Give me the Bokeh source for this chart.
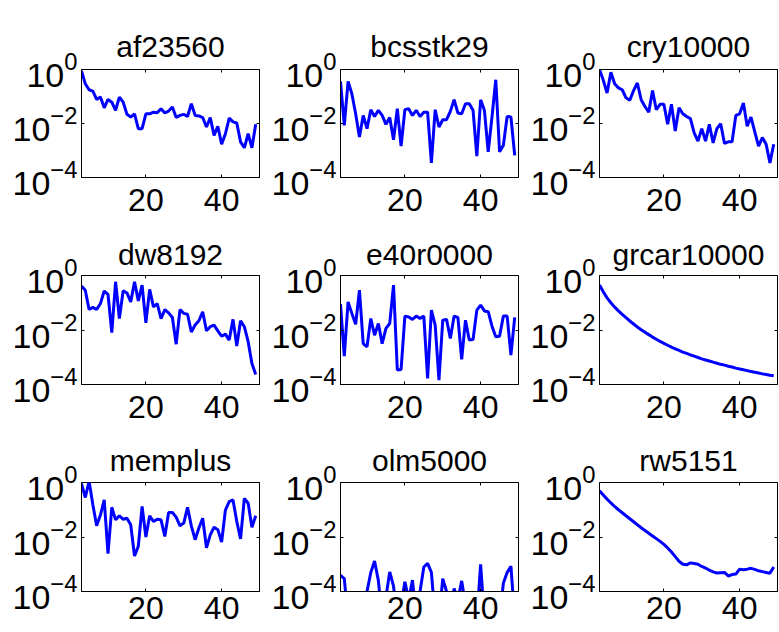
from bokeh.plotting import figure
from bokeh.layouts import column, row
from bokeh.models import Range1d, FixedTicker, LogAxis, LinearAxis
from bokeh.embed import file_html
from bokeh.resources import INLINE

# ---------------- data (log10 of the plotted values) ----------------
first_step = 3
x_lo, x_hi = 3, 50
x_ticks = [20, 40]
y_ticks = [1e-4, 1e-2, 1e0]

names = ["af23560", "bcsstk29", "cry10000",
         "dw8192", "e40r0000", "grcar10000",
         "memplus", "olm5000", "rw5151"]

af23560 = [-0.05, -0.53, -0.75, -0.80, -1.11, -1.02, -1.42, -1.11, -1.21, -1.51, -1.02, -1.21,
           -1.66, -1.76, -1.64, -2.19, -2.19, -1.64, -1.64, -1.58, -1.60, -1.45, -1.61, -1.54,
           -1.39, -1.78, -1.70, -1.66, -1.74, -1.27, -1.70, -1.72, -1.78, -2.13, -1.78, -2.44,
           -2.10, -2.77, -2.38, -1.80, -1.94, -1.98, -2.68, -2.90, -2.38, -2.90, -2.03]
bcsstk29 = [-0.44, -2.07, -0.44, -0.90, -1.64, -2.50, -1.70, -2.19, -1.49, -1.74, -1.51, -1.70,
            -2.03, -1.78, -2.60, -1.45, -2.84, -1.49, -1.45, -1.70, -1.51, -1.74, -1.58, -1.58,
            -3.46, -1.49, -2.13, -1.86, -1.86, -1.55, -1.12, -1.61, -1.64, -1.27, -1.27, -1.51,
            -3.21, -1.12, -1.51, -3.05, -1.76, -0.38, -3.05, -2.81, -1.74, -1.76, -3.18]
cry10000 = [0.00, -0.40, -0.87, -0.10, -0.53, -0.68, -0.75, -1.05, -1.14, -0.78, -0.50, -1.12,
            -1.37, -1.58, -0.78, -1.49, -1.29, -1.29, -2.03, -1.29, -2.28, -1.42, -1.64, -1.74,
            -1.82, -2.35, -2.65, -2.19, -2.65, -2.03, -2.72, -2.19, -2.01, -2.74, -2.68, -2.68,
            -1.70, -1.64, -1.24, -2.10, -1.76, -2.31, -2.84, -2.52, -2.77, -3.46, -2.77]
dw8192 = [-0.39, -0.54, -1.25, -1.17, -1.25, -1.03, -0.57, -0.69, -2.10, -0.23, -1.58, -0.56,
          -0.64, -0.97, -0.23, -0.93, -0.35, -1.74, -0.51, -1.15, -1.03, -1.58, -1.25, -1.37,
          -1.54, -2.52, -1.25, -1.39, -1.42, -2.07, -1.82, -1.66, -1.33, -2.03, -1.88, -1.82,
          -2.03, -2.23, -2.15, -2.37, -1.61, -2.59, -1.66, -1.88, -2.43, -3.23, -3.63]
e40r0000 = [-1.05, -2.96, -0.97, -1.39, -1.79, -0.54, -2.50, -2.62, -1.58, -2.19, -1.76, -2.50,
            -1.94, -1.76, -0.35, -3.47, -3.45, -1.49, -1.52, -1.61, -1.49, -1.58, -1.49, -3.78,
            -1.27, -1.82, -3.84, -1.64, -1.61, -2.31, -1.49, -1.54, -3.08, -1.64, -2.37, -2.35,
            -1.27, -1.09, -1.30, -1.33, -1.86, -2.25, -2.23, -1.49, -1.49, -2.92, -1.54]
grcar10000 = [-0.35, -0.60, -0.82, -1.00, -1.16, -1.30, -1.43, -1.55, -1.67, -1.78, -1.89, -1.99,
              -2.08, -2.17, -2.26, -2.34, -2.42, -2.49, -2.56, -2.63, -2.69, -2.75, -2.81, -2.86,
              -2.91, -2.96, -3.01, -3.06, -3.10, -3.14, -3.18, -3.22, -3.26, -3.29, -3.33, -3.36,
              -3.40, -3.43, -3.46, -3.49, -3.52, -3.55, -3.58, -3.61, -3.63, -3.66, -3.68]
memplus = [-0.04, -0.55, 0.05, -0.82, -1.59, -1.19, -0.64, -2.61, -0.91, -1.37, -1.22, -1.35,
           -1.31, -1.55, -2.70, -2.34, -0.88, -2.00, -1.22, -1.43, -1.35, -1.37, -1.98, -1.10,
           -1.10, -1.27, -1.59, -1.49, -0.91, -1.59, -2.10, -1.67, -1.31, -2.40, -1.92, -1.64,
           -1.73, -2.19, -1.01, -0.70, -0.64, -1.43, -2.07, -0.58, -0.76, -1.64, -1.22]
olm5000 = [-3.41, -3.53, -5.0, -5.0, -5.0, -5.0, -4.6, -4.0, -3.3, -2.88, -3.6, -5.0,
           -4.2, -3.28, -3.8, -5.0, -4.5, -3.64, -4.3, -3.58, -5.0, -4.0, -3.1, -2.97,
           -3.3, -5.0, -5.0, -3.53, -4.0, -5.0, -3.89, -4.3, -3.61, -4.5, -5.0, -5.0,
           -5.0, -3.0, -5.0, -5.0, -5.0, -5.0, -5.0, -3.7, -3.3, -3.07, -5.0]
rw5151 = [-0.30, -0.46, -0.61, -0.75, -0.88, -1.00, -1.11, -1.22, -1.33, -1.44, -1.55, -1.66,
          -1.76, -1.86, -1.96, -2.06, -2.16, -2.27, -2.40, -2.55, -2.72, -2.89, -3.00, -3.02,
          -2.95, -2.97, -3.00, -3.08, -3.14, -3.22, -3.28, -3.32, -3.31, -3.30, -3.43, -3.38,
          -3.36, -3.18, -3.20, -3.18, -3.15, -3.19, -3.24, -3.27, -3.30, -3.33, -3.10]

series = [af23560, bcsstk29, cry10000, dw8192, e40r0000, grcar10000, memplus, olm5000, rw5151]

# ---------------- layout (page origin is the top-left corner) ----------------
FONT = "Liberation Sans"
col_w = [267, 259, 253]
col_left = [81, 73, 73]
col_right = [8, 8, 2]
row_h = [224, 207, 201]
row_top = [69, 51, 51]
row_bottom = [47, 47, 41]
x_label_standoff = [11, 11, 5]
title_standoff = [12, 8, 10]


def make_panel(name, logvals, r, c):
    xs = list(range(first_step, first_step + len(logvals)))
    ys = [10 ** v for v in logvals]
    p = figure(width=col_w[c], height=row_h[r], y_axis_type="log", title=name,
               x_range=Range1d(x_lo, x_hi), y_range=Range1d(1e-4, 1e0),
               output_backend="svg", toolbar_location=None, tools="",
               min_border_left=col_left[c], min_border_right=col_right[c],
               min_border_top=row_top[r], min_border_bottom=row_bottom[r],
               styles={"flex-shrink": "0"})
    p.line(xs, ys, line_color="#0000ff", line_width=3)

    p.title.align = "center"
    p.title.vertical_align = "middle"
    p.title.text_font = FONT
    p.title.text_font_size = "30px"
    p.title.text_font_style = "normal"
    p.title.text_color = "black"
    p.title.standoff = title_standoff[r]

    p.grid.visible = False
    p.outline_line_color = "black"
    p.outline_line_width = 1
    p.background_fill_color = "white"
    p.border_fill_color = "white"

    xa = p.xaxis[0]
    xa.ticker = FixedTicker(ticks=x_ticks)
    xa.major_tick_in = 3
    xa.major_tick_out = 0
    xa.minor_tick_line_color = None
    xa.axis_line_color = "black"
    xa.major_label_text_font = FONT
    xa.major_label_text_font_size = "32px"
    xa.major_label_text_color = "black"
    xa.major_label_standoff = x_label_standoff[r]

    ya = p.yaxis[0]
    ya.ticker = FixedTicker(ticks=y_ticks)
    ya.major_tick_in = 3
    ya.major_tick_out = 0
    ya.minor_tick_line_color = None
    ya.axis_line_color = "black"
    ya.major_label_text_font = FONT
    ya.major_label_text_font_size = "34px"
    ya.major_label_text_color = "black"
    ya.major_label_standoff = 4

    top = LinearAxis(ticker=FixedTicker(ticks=x_ticks), major_tick_in=3, major_tick_out=0,
                     minor_tick_line_color=None, axis_line_color=None,
                     major_label_text_font_size="10px", major_label_standoff=0,
                     major_label_overrides={t: "" for t in x_ticks})
    right = LogAxis(ticker=FixedTicker(ticks=y_ticks), major_tick_in=3, major_tick_out=0,
                    minor_tick_line_color=None, axis_line_color=None,
                    major_label_text_font_size="10px", major_label_standoff=0,
                    major_label_overrides={t: "" for t in y_ticks})
    p.add_layout(top, "above")
    p.add_layout(right, "right")
    return p


rows = []
for r in range(3):
    figs = [make_panel(names[3 * r + c], series[3 * r + c], r, c) for c in range(3)]
    rows.append(row(*figs, width=sum(col_w), height=row_h[r], styles={"flex-shrink": "0"}))

layout = column(*rows, width=sum(col_w), height=sum(row_h), styles={"overflow": "hidden"})

open("out.html", "w").write(file_html(layout, INLINE))
